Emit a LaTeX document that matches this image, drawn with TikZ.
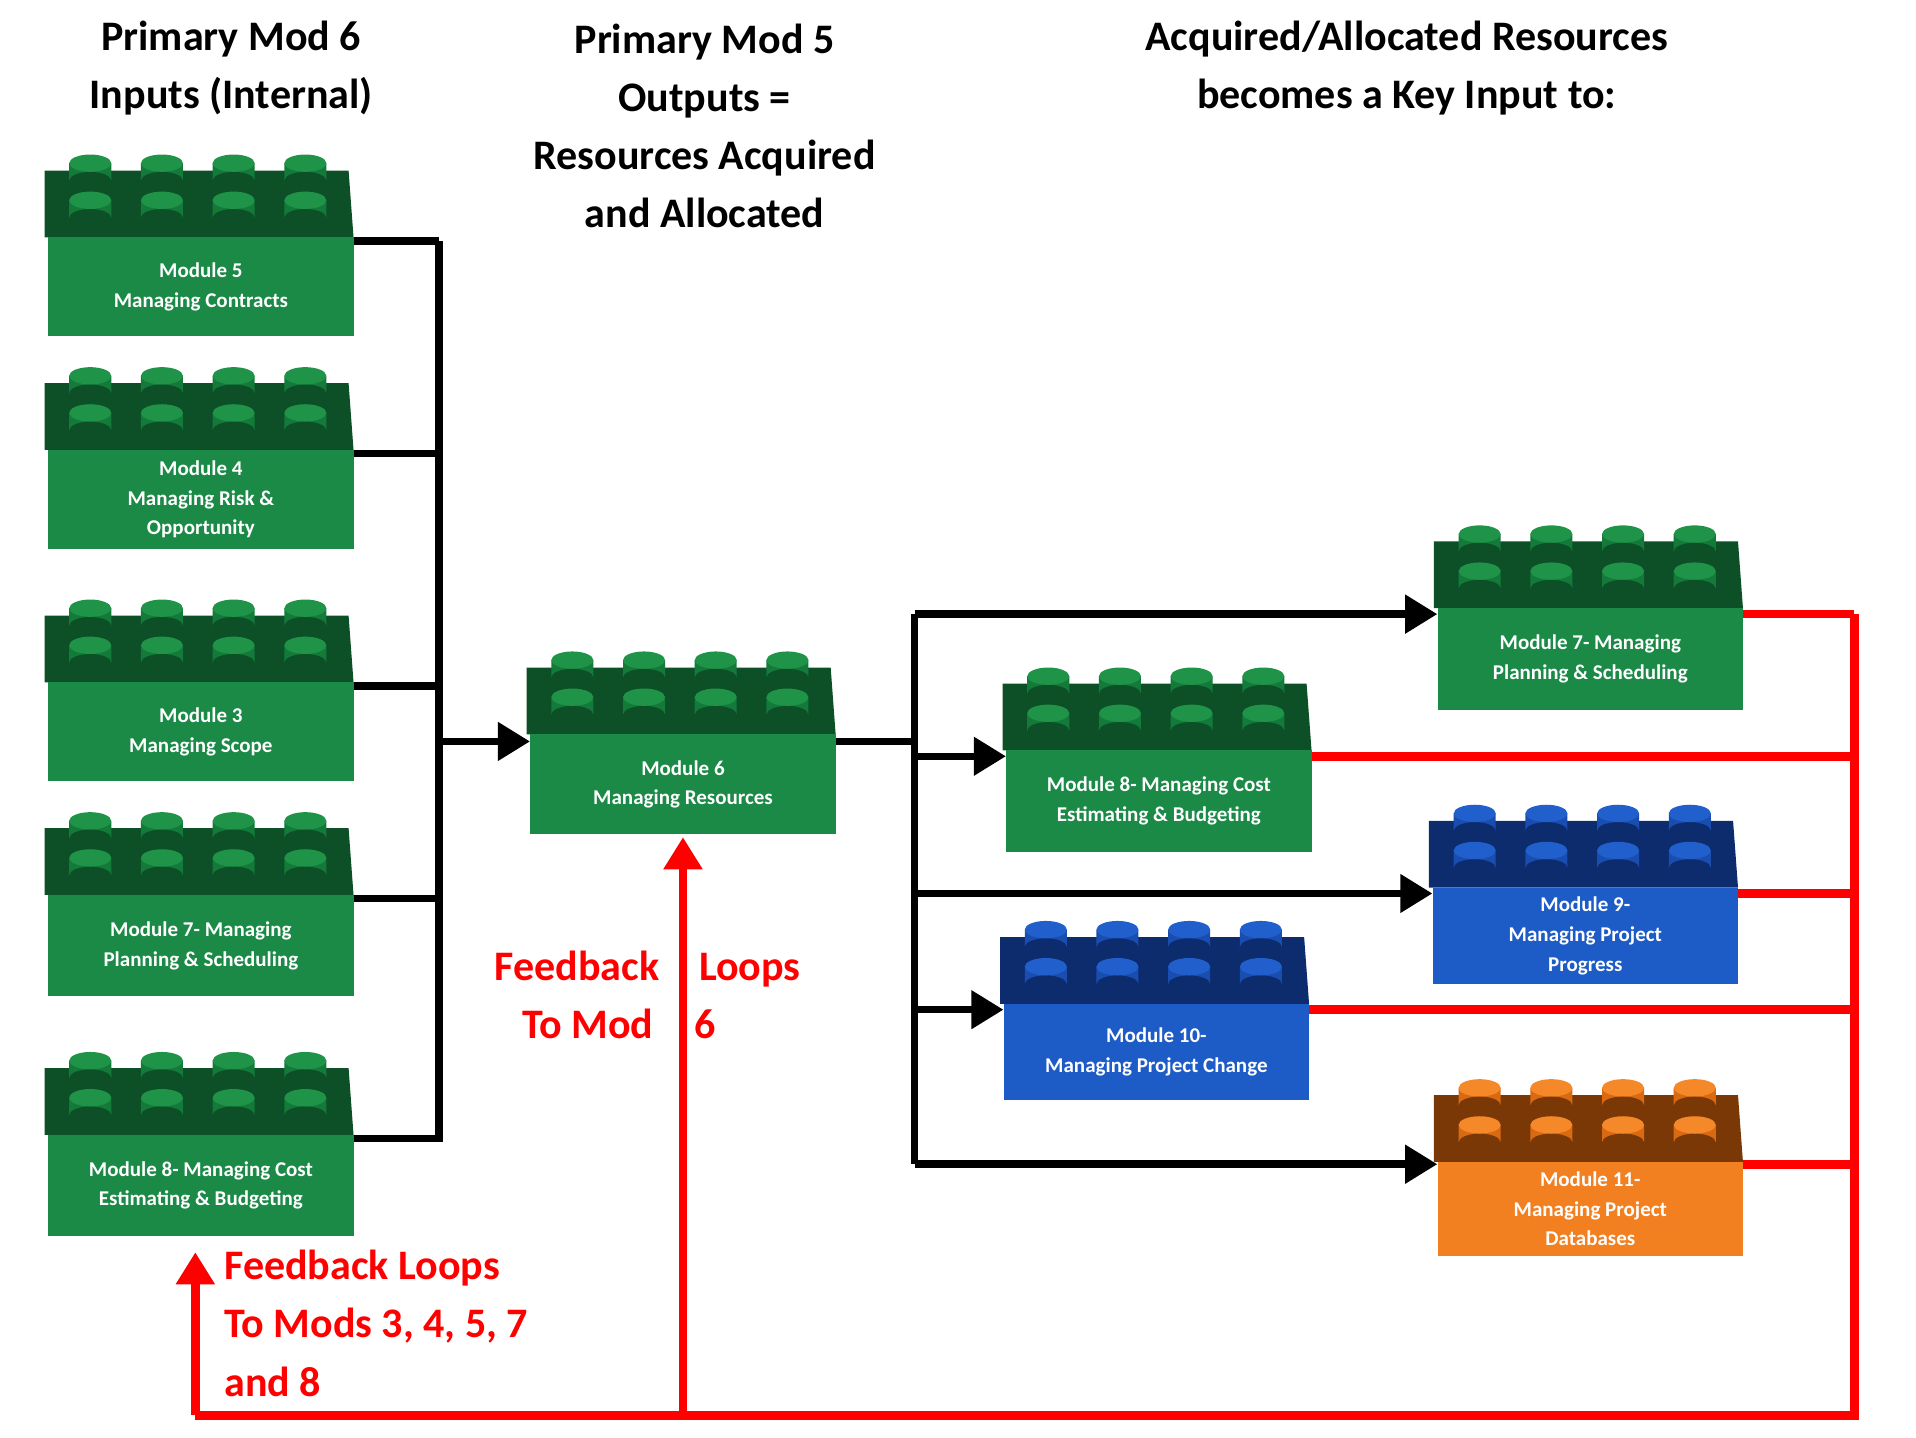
\documentclass[tikz,border=0pt]{standalone}
\usepackage{fontspec}
\setmainfont{Carlito}
\usetikzlibrary{arrows.meta,calc}
\definecolor{gfront}{HTML}{1B8A47}\definecolor{gdark}{HTML}{0D4F26}\definecolor{gstud}{HTML}{137A3A}\definecolor{gtop}{HTML}{1F9448}
\definecolor{bfront}{HTML}{1D5BC6}\definecolor{bdark}{HTML}{0C2C6E}\definecolor{bstud}{HTML}{1A4DB0}\definecolor{btop}{HTML}{2160CC}
\definecolor{ofront}{HTML}{F28021}\definecolor{odark}{HTML}{7A3806}\definecolor{ostud}{HTML}{D96A12}\definecolor{otop}{HTML}{F5892A}
\definecolor{fbred}{HTML}{FF0000}
\newcommand\brick[6]{%
  \fill[#4dark] (#1,#2) -- (#1+246,#2) -- (#1+250,#2+54) -- (#1,#2+54) -- cycle;
  \foreach \dx in {37,95,153,211}{
    \foreach \dy in {-6,24}{
      \fill[#4stud] (#1+\dx-17,#2+\dy) -- ++(0,14) arc[start angle=180,end angle=360,x radius=17,y radius=7] -- ++(0,-14) -- cycle;
      \fill[#4top] (#1+\dx,#2+\dy) ellipse[x radius=17,y radius=7];
    }}
  \node[fill=#4front,minimum width=247pt,minimum height=#3pt,inner sep=0pt,text=white,align=center,font=\fontsize{17}{24}\selectfont\bfseries] (#6) at (#1+126.5,#2+54+#3/2) {#5};
}
\tikzset{blk/.style={line width=6pt,black},
  arr/.style={blk,-{Triangle[length=26pt,width=30pt]}},
  redl/.style={line width=7pt,fbred},
  rarr/.style={redl,-{Triangle[length=26pt,width=30pt]}},
  hdr/.style={font=\fontsize{34}{47}\selectfont\bfseries,align=center},
  rlab/.style={font=\fontsize{34}{47}\selectfont\bfseries,text=fbred}}
\begin{document}
\begin{tikzpicture}[x=1pt,y=-1pt]
\useasboundingbox (0,0) rectangle (1550,1163);
\node[hdr] (h1) at (187,55) {Primary Mod 6\\Inputs (Internal)};
\node[hdr] (h2) at (570,102) {Primary Mod 5\\Outputs =\\Resources Acquired\\and Allocated};
\node[hdr] (h3) at (1138,55) {Acquired/Allocated Resources\\becomes a Key Input to:};
\brick{36}{138}{80}{g}{Module 5\\Managing Contracts}{m5}
\brick{36}{310}{80}{g}{Module 4\\Managing Risk \&\\Opportunity}{m4}
\brick{36}{498}{80}{g}{Module 3\\Managing Scope}{m3}
\brick{36}{670}{82}{g}{Module 7- Managing\\Planning \& Scheduling}{m7l}
\brick{36}{864}{82}{g}{Module 8- Managing Cost\\Estimating \& Budgeting}{m8l}
\brick{426}{540}{81}{g}{Module 6\\Managing Resources}{m6}
\brick{1160}{438}{82}{g}{Module 7- Managing\\Planning \& Scheduling}{m7r}
\brick{811}{553}{82}{g}{Module 8- Managing Cost\\Estimating \& Budgeting}{m8r}
\brick{1156}{664}{78}{b}{Module 9-\\Managing Project\\Progress}{m9}
\brick{809}{758}{78}{b}{Module 10-\\Managing Project Change}{m10}
\brick{1160}{886}{76}{o}{Module 11-\\Managing Project\\Databases}{m11}
% left bus
\coordinate (bl) at (355,0);
\coordinate (br) at (740,0);
\coordinate (rr) at (1500,0);
\foreach \n in {m5,m4,m3,m7l,m8l}{\draw[blk] ([yshift=-3pt]\n.north east) -- ([yshift=-3pt]\n.north east -| bl);}
\draw[blk] ([yshift=-3pt]m5.north east -| bl) -- ([yshift=-6pt]m8l.north east -| bl);
\draw[arr] ([yshift=-6pt]m6.north west -| bl) -- ([yshift=-6pt]m6.north west);
% right bus
\draw[blk] ([yshift=-6pt]m6.north east) -- ([yshift=-6pt]m6.north east -| br);
\draw[blk] ([yshift=-5pt]m7r.north west -| br) -- ([yshift=-2pt]m11.north west -| br);
\foreach \n in {m7r,m8r,m9,m10}{\draw[arr] ([yshift=-5pt]\n.north west -| br) -- ([yshift=-5pt]\n.north west);}
\draw[arr] ([yshift=-2pt]m11.north west -| br) -- ([yshift=-2pt]m11.north west);
% red feedback
\foreach \n in {m7r,m8r,m9,m10}{\draw[redl] ([yshift=-5pt]\n.north east) -- ([yshift=-5pt]\n.north east -| rr);}
\draw[redl] ([yshift=-2pt]m11.north east) -- ([yshift=-2pt]m11.north east -| rr);
\coordinate (rb) at (1500,1145);
\coordinate (lb) at (158,1145);
\coordinate (lt) at (158,1013);
\coordinate (m6b) at (m6.south |- rb);
\draw[redl] ([yshift=-5pt]m7r.north east -| rr) -- (rb) -- (lb);
\draw[rarr] (lb) -- (lt);
\draw[rarr] (m6b) -- ([yshift=-2pt]m6.south);
\node[rlab,anchor=base east] (f1) at (537,793) {Feedback};
\node[rlab,anchor=base west] (f2) at (562,793) {Loops};
\node[rlab,anchor=base east] (f3) at (532,840) {To Mod};
\node[rlab,anchor=base west] (f4) at (558,840) {6};
\node[rlab,anchor=north west,align=left,font=\fontsize{34}{47}\selectfont\bfseries] (f5) at (178,1008) {Feedback Loops\\To Mods 3, 4, 5, 7\\and 8};
\end{tikzpicture}
\end{document}
